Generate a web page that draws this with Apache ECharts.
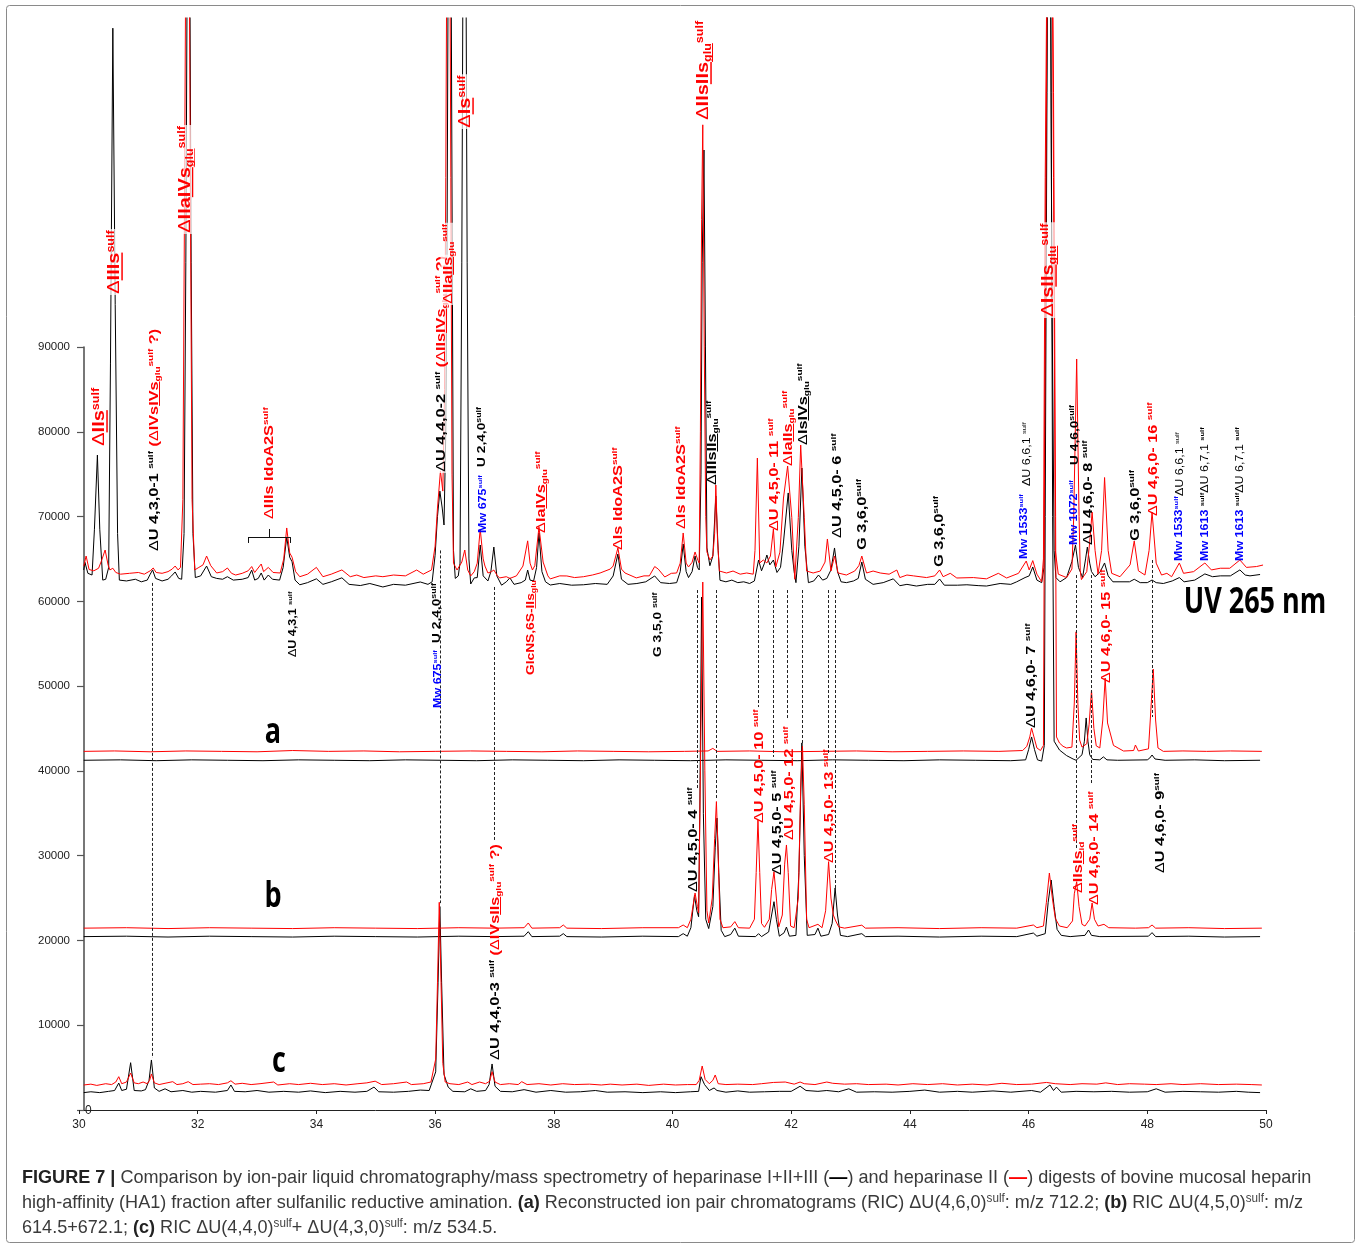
<!DOCTYPE html>
<html>
<head>
<meta charset="utf-8">
<script src="https://cdn.jsdelivr.net/npm/echarts@6/dist/echarts.min.js"></script>
<style>
html,body{margin:0;padding:0;background:#fff;}
#chart{width:1360px;height:1248px;}
</style>
</head>
<body>
<div id="chart"></div>
<script>
// ---------- axis ticks ----------
const xTicks = [30, 32, 34, 36, 38, 40, 42, 44, 46, 48, 50];
const yTicks = [0, 10000, 20000, 30000, 40000, 50000, 60000, 70000, 80000, 90000];

// ---------- chromatograms: [retention time (min), intensity] ----------
// UV 265 nm trace, heparinase I+II+III digest
const uvBlack = [[30.08,63700],[30.10,64600],[30.15,63300],[30.22,63100],[30.26,68500],[30.31,77250],[30.35,68500],[30.40,62500],[30.45,62600],[30.50,64000],[30.53,88000],[30.57,127600],[30.61,95000],[30.65,68000],[30.68,62500],[30.80,62400],[30.95,62600],[31.05,62300],[31.15,62500],[31.20,63200],[31.24,63700],[31.29,62700],[31.40,62400],[31.50,62600],[31.56,63000],[31.62,63460],[31.68,62700],[31.73,62600],[31.77,68000],[31.80,100000],[31.845,170000],[31.89,100000],[31.92,68000],[31.96,62800],[32.05,63000],[32.15,64160],[32.23,62900],[32.32,62700],[32.42,62600],[32.50,62900],[32.60,62500],[32.75,62600],[32.85,62800],[32.91,63680],[32.96,62500],[33.02,62700],[33.07,63340],[33.12,62500],[33.19,63100],[33.26,62600],[33.38,62500],[33.44,64000],[33.50,67590],[33.55,65200],[33.59,64660],[33.64,62500],[33.72,61950],[33.85,62200],[34.00,62650],[34.11,62000],[34.25,62300],[34.43,62770],[34.55,62000],[34.74,61860],[34.90,62100],[35.12,61690],[35.30,62000],[35.50,61900],[35.75,62280],[35.88,62000],[35.95,62300],[36.00,65420],[36.04,70000],[36.08,73000],[36.12,71000],[36.15,69000],[36.18,80000],[36.20,100000],[36.245,180000],[36.29,100000],[36.31,66000],[36.34,62700],[36.39,62990],[36.42,64500],[36.45,100000],[36.495,180000],[36.54,100000],[36.57,65000],[36.60,62040],[36.66,62760],[36.71,62800],[36.76,66640],[36.81,63000],[36.89,62400],[36.94,63500],[36.99,66400],[37.04,63000],[37.12,61900],[37.20,62300],[37.26,62760],[37.33,62000],[37.45,62200],[37.52,62500],[37.56,63690],[37.60,62500],[37.66,62400],[37.71,64000],[37.75,68060],[37.80,63500],[37.86,62300],[37.94,61920],[38.10,62100],[38.30,61900],[38.50,61950],[38.70,62100],[38.90,62000],[39.00,62990],[39.08,65580],[39.14,62600],[39.25,62000],[39.40,62100],[39.55,62300],[39.70,62990],[39.80,62200],[39.95,62100],[40.07,62200],[40.13,63500],[40.18,66760],[40.23,63500],[40.27,62800],[40.33,63500],[40.38,65340],[40.42,64000],[40.45,63700],[40.48,75000],[40.50,100000],[40.53,113230],[40.555,90000],[40.58,66290],[40.63,64200],[40.68,65340],[40.73,72420],[40.77,66000],[40.80,62480],[40.90,62300],[41.00,62500],[41.10,62200],[41.20,62300],[41.30,62100],[41.38,62400],[41.45,64870],[41.50,63600],[41.55,64500],[41.59,65460],[41.64,64300],[41.70,64870],[41.76,63400],[41.82,64000],[41.87,67000],[41.95,72780],[42.01,66000],[42.05,63500],[42.08,62200],[42.13,66500],[42.18,75720],[42.23,66500],[42.29,62200],[42.38,62400],[42.46,63100],[42.53,62500],[42.60,62700],[42.67,63700],[42.73,66290],[42.78,63500],[42.84,62300],[42.93,62200],[43.05,62400],[43.13,62700],[43.19,64640],[43.25,62600],[43.38,62000],[43.55,62200],[43.72,62650],[43.83,61840],[43.95,62000],[44.11,61800],[44.30,62000],[44.42,62000],[44.50,62630],[44.58,61900],[44.80,61900],[44.96,61950],[45.15,61850],[45.29,61800],[45.52,62100],[45.70,62000],[45.80,62300],[45.94,62800],[46.01,63000],[46.07,64050],[46.14,62500],[46.22,62200],[46.26,64000],[46.29,100000],[46.345,180000],[46.39,100000],[46.43,66000],[46.46,62800],[46.53,62300],[46.64,62800],[46.73,64700],[46.79,66640],[46.84,64000],[46.91,62800],[46.96,65000],[46.99,66400],[47.03,64500],[47.06,63500],[47.12,62900],[47.20,63400],[47.28,64520],[47.34,63000],[47.42,62300],[47.54,62300],[47.70,62300],[47.78,62600],[47.88,62200],[48.00,62200],[48.08,62510],[48.15,62200],[48.27,62100],[48.42,62400],[48.54,62800],[48.62,62300],[48.80,62500],[48.97,63230],[49.10,62900],[49.23,63000],[49.40,63000],[49.56,63700],[49.65,63100],[49.73,63000],[49.90,63160]];

// UV 265 nm trace, heparinase II digest
const uvRed = [[30.08,64160],[30.12,65340],[30.17,63750],[30.25,63600],[30.33,63900],[30.38,64800],[30.44,66050],[30.49,64300],[30.52,63700],[30.57,63900],[30.62,63400],[30.70,63200],[30.85,63300],[31.00,63400],[31.10,63200],[31.20,63600],[31.25,63930],[31.30,63400],[31.40,63300],[31.50,63500],[31.57,63800],[31.62,64160],[31.67,63700],[31.71,64000],[31.75,72000],[31.78,110000],[31.83,180000],[31.875,110000],[31.905,72000],[31.95,63700],[32.02,64000],[32.09,64300],[32.15,65340],[32.22,64200],[32.32,63340],[32.42,63500],[32.50,63930],[32.57,63300],[32.64,63100],[32.75,63300],[32.85,63600],[32.91,64100],[32.96,63400],[32.99,63250],[33.07,64400],[33.11,63500],[33.14,63340],[33.19,64000],[33.27,63400],[33.39,63340],[33.45,65000],[33.50,68650],[33.55,65700],[33.59,65200],[33.65,63500],[33.72,62900],[33.85,63200],[34.00,64000],[34.11,62900],[34.25,63200],[34.43,63700],[34.57,62900],[34.68,63100],[34.80,62800],[35.00,63000],[35.12,62900],[35.30,63100],[35.50,63000],[35.69,63690],[35.80,63200],[35.94,63700],[36.00,66500],[36.04,71000],[36.09,75370],[36.13,73000],[36.16,85000],[36.18,110000],[36.225,180000],[36.265,110000],[36.285,75000],[36.31,64500],[36.37,63690],[36.45,64630],[36.50,66050],[36.55,63690],[36.60,62990],[36.66,63500],[36.71,64500],[36.76,68530],[36.81,65000],[36.84,64160],[36.89,63340],[36.95,63500],[36.99,63690],[37.05,63000],[37.09,62760],[37.20,62900],[37.26,62700],[37.37,63000],[37.48,64160],[37.56,67130],[37.60,64500],[37.64,63690],[37.68,64200],[37.75,68750],[37.82,64630],[37.90,63000],[37.94,62640],[38.10,63000],[38.22,62990],[38.35,62800],[38.50,62900],[38.65,63100],[38.78,63340],[38.95,63800],[39.00,64160],[39.08,66290],[39.14,63800],[39.20,63340],[39.39,62760],[39.52,63000],[39.61,63000],[39.70,64100],[39.76,63800],[39.87,62870],[39.98,63300],[40.07,63340],[40.13,64500],[40.18,68060],[40.23,64500],[40.27,64050],[40.33,64600],[40.38,65820],[40.43,64800],[40.45,64520],[40.47,80000],[40.49,105000],[40.51,116200],[40.535,90000],[40.56,70000],[40.58,65820],[40.63,64870],[40.68,65340],[40.71,68000],[40.73,73720],[40.76,67000],[40.79,63570],[40.91,63340],[41.02,63570],[41.14,63200],[41.25,63340],[41.36,63200],[41.39,66000],[41.43,76900],[41.47,64520],[41.53,64870],[41.59,64520],[41.65,65340],[41.70,68530],[41.74,64050],[41.81,65800],[41.87,72180],[41.94,75960],[42.01,69880],[42.06,62600],[42.12,69880],[42.16,78430],[42.22,69880],[42.26,63570],[42.37,63340],[42.49,63570],[42.57,64630],[42.61,67350],[42.67,63570],[42.73,65340],[42.79,63340],[42.93,63100],[43.07,63570],[43.14,64200],[43.19,65340],[43.25,63800],[43.27,63340],[43.38,63570],[43.50,63340],[43.65,63200],[43.78,63690],[43.83,62800],[43.95,63100],[44.06,63000],[44.28,62800],[44.42,63000],[44.50,63690],[44.56,62900],[44.68,63300],[44.79,62750],[45.07,62800],[45.29,62650],[45.49,63300],[45.63,62750],[45.83,63300],[45.96,64750],[46.01,63700],[46.07,64800],[46.14,63200],[46.22,62300],[46.25,65000],[46.28,110000],[46.36,180000],[46.42,110000],[46.45,66000],[46.50,63200],[46.64,62800],[46.73,63810],[46.76,70000],[46.81,88580],[46.85,70000],[46.87,63600],[46.89,62560],[46.98,63500],[47.03,67000],[47.07,70530],[47.12,66000],[47.17,63210],[47.23,66000],[47.28,74600],[47.34,66000],[47.40,63300],[47.54,62900],[47.71,64300],[47.78,67110],[47.85,63600],[47.96,63100],[48.03,66000],[48.08,70530],[48.15,64500],[48.24,63100],[48.33,63300],[48.41,62900],[48.54,64520],[48.61,63300],[48.78,63500],[48.97,64520],[49.08,63700],[49.23,63900],[49.39,63900],[49.56,64870],[49.67,64000],[49.84,64100],[49.95,64280]];

// (a) RIC ΔU(4,6,0)sulf, m/z 712.2
const aBlack = [[30.08,41250],[30.7,41300],[31.3,41200],[31.9,41300],[32.5,41250],[33.1,41200],[33.7,41300],[34.3,41250],[34.9,41200],[35.5,41300],[36.1,41250],[36.7,41200],[37.3,41300],[37.9,41250],[38.5,41200],[39.1,41300],[39.7,41250],[40.3,41200],[40.9,41300],[41.5,41250],[42.1,41200],[42.7,41300],[43.3,41250],[43.9,41200],[44.5,41300],[45.1,41250],[45.7,41200],[45.95,41300],[46.00,42500],[46.05,44000],[46.10,42500],[46.15,41300],[46.22,41150],[46.265,43000],[46.28,70000],[46.31,120000],[46.345,180000],[46.38,120000],[46.405,70000],[46.43,43500],[46.52,42460],[46.64,41800],[46.75,41400],[46.80,41250],[46.90,41900],[46.94,43500],[46.97,46240],[47.00,43500],[47.03,41900],[47.08,41350],[47.20,41300],[47.26,41650],[47.32,41300],[47.50,41250],[48.00,41300],[48.04,41500],[48.08,41870],[48.13,41400],[48.30,41250],[48.8,41300],[49.3,41200],[49.90,41250]];
const aRed = [[30.08,42300],[30.6,42350],[31.2,42250],[31.8,42350],[32.4,42300],[33.0,42250],[33.6,42400],[34.2,42300],[34.8,42350],[35.4,42250],[36.0,42300],[36.6,42350],[37.2,42300],[37.8,42250],[38.4,42350],[39.0,42300],[39.6,42250],[40.2,42300],[40.6,42350],[40.68,42650],[40.75,42300],[41.3,42350],[41.9,42250],[42.5,42300],[43.1,42350],[43.7,42250],[44.3,42300],[44.9,42350],[45.5,42300],[45.90,42400],[45.97,42900],[46.02,44000],[46.05,45050],[46.09,44000],[46.14,42700],[46.20,42400],[46.25,43000],[46.265,70000],[46.30,120000],[46.36,180000],[46.42,120000],[46.455,70000],[46.47,44000],[46.52,43290],[46.58,42900],[46.64,42700],[46.73,42800],[46.77,48000],[46.80,56400],[46.83,48000],[46.86,43640],[46.90,42800],[46.98,43200],[47.02,45500],[47.06,49540],[47.10,45000],[47.14,42950],[47.20,42700],[47.25,46000],[47.29,50950],[47.33,45650],[47.43,43000],[47.60,42340],[47.77,42400],[47.80,43050],[47.85,42340],[48.02,42600],[48.05,46000],[48.10,52000],[48.14,46000],[48.18,42700],[48.27,42300],[48.6,42350],[49.0,42300],[49.4,42350],[49.93,42300]];

// (b) RIC ΔU(4,5,0)sulf, m/z 614.5+672.1
const bBlack = [[30.08,20450],[30.8,20500],[31.5,20400],[32.2,20500],[32.9,20450],[33.6,20400],[34.3,20500],[35.0,20450],[35.7,20400],[36.4,20500],[37.0,20450],[37.50,20500],[37.57,21030],[37.63,20450],[38.10,20500],[38.16,20800],[38.22,20450],[38.8,20400],[39.5,20500],[40.10,20450],[40.18,20800],[40.25,20500],[40.31,21500],[40.37,25300],[40.41,23500],[40.44,22800],[40.46,35000],[40.49,60500],[40.52,35000],[40.56,22500],[40.61,21400],[40.68,24000],[40.72,31000],[40.75,34430],[40.78,28000],[40.82,21200],[40.88,20450],[40.98,20700],[41.05,21450],[41.11,20500],[41.40,20450],[41.45,20800],[41.50,20450],[41.62,21000],[41.67,23000],[41.71,24570],[41.75,22500],[41.80,20500],[41.88,20900],[41.92,21580],[41.97,20500],[42.08,20600],[42.13,28000],[42.18,43300],[42.22,30000],[42.27,20600],[42.40,20700],[42.45,21450],[42.50,20500],[42.63,20700],[42.69,22000],[42.74,26190],[42.78,23000],[42.83,20600],[42.95,20450],[43.19,20800],[43.25,20450],[43.8,20500],[44.5,20400],[45.2,20500],[45.8,20450],[46.08,20870],[46.14,20500],[46.28,20800],[46.33,24500],[46.38,27130],[46.43,24000],[46.48,21300],[46.55,20600],[46.70,20450],[46.95,20600],[47.01,21230],[47.06,20600],[47.20,20450],[48.02,20500],[48.08,20920],[48.14,20450],[48.7,20500],[49.3,20400],[49.90,20450]];
const bRed = [[30.08,21450],[30.8,21500],[31.5,21400],[32.2,21500],[32.9,21450],[33.6,21400],[34.3,21500],[35.0,21450],[35.7,21400],[36.4,21500],[37.0,21450],[37.50,21500],[37.57,22060],[37.63,21450],[38.10,21500],[38.16,21820],[38.22,21450],[38.8,21400],[39.5,21500],[40.10,21500],[40.18,21820],[40.25,21500],[40.31,22500],[40.38,25590],[40.42,24000],[40.44,23240],[40.47,40000],[40.51,62270],[40.545,40000],[40.58,23500],[40.61,22060],[40.67,25000],[40.71,32000],[40.74,36380],[40.77,30000],[40.80,22500],[40.85,21500],[40.98,21600],[41.05,22220],[41.11,21500],[41.30,21450],[41.38,22500],[41.41,28000],[41.44,34200],[41.47,28000],[41.50,22000],[41.55,21550],[41.63,22500],[41.67,26000],[41.71,28110],[41.75,25000],[41.79,21600],[41.85,23000],[41.89,29000],[41.92,31260],[41.95,28000],[41.99,21700],[42.05,21500],[42.12,25000],[42.16,38000],[42.19,42900],[42.22,36000],[42.26,22500],[42.30,21500],[42.45,21900],[42.52,21500],[42.58,23500],[42.63,29290],[42.67,25000],[42.71,23000],[42.75,22300],[42.80,21600],[42.90,21450],[43.19,21800],[43.25,21450],[43.8,21500],[44.5,21400],[45.2,21500],[45.8,21450],[46.08,21820],[46.14,21500],[46.25,21700],[46.30,24500],[46.35,27950],[46.40,25000],[46.45,22600],[46.52,21700],[46.65,21500],[46.74,22300],[46.77,25500],[46.81,26930],[46.85,24000],[46.90,21900],[46.95,21700],[47.03,22500],[47.07,24410],[47.11,22500],[47.17,21700],[47.27,21900],[47.35,21500],[47.8,21450],[48.02,21500],[48.08,21820],[48.14,21450],[48.7,21500],[49.3,21400],[49.93,21450]];

// (c) RIC ΔU(4,4,0)sulf + ΔU(4,3,0)sulf, m/z 534.5
const cBlack = [[30.08,2050],[30.20,2150],[30.35,2050],[30.50,2200],[30.60,2300],[30.67,3180],[30.72,2300],[30.80,2450],[30.87,5580],[30.93,2300],[31.05,2250],[31.12,2400],[31.18,3500],[31.22,5900],[31.27,2600],[31.35,2200],[31.45,2500],[31.55,2150],[31.75,2300],[31.90,2100],[32.05,2200],[32.30,2100],[32.50,2300],[32.56,2950],[32.62,2200],[32.80,2150],[33.00,2300],[33.20,2100],[33.45,2200],[33.70,2100],[33.90,2250],[34.15,2050],[34.40,2200],[34.65,2100],[34.85,2200],[34.97,2700],[35.05,2150],[35.30,2100],[35.55,2200],[35.75,2350],[35.90,2300],[36.01,4500],[36.05,15000],[36.08,24000],[36.11,15000],[36.15,4200],[36.22,2700],[36.30,2200],[36.50,2150],[36.60,2500],[36.70,2200],[36.85,2300],[36.91,3000],[36.96,5430],[37.01,2800],[37.10,2200],[37.30,2150],[37.50,2400],[37.70,2100],[37.95,2300],[38.20,2100],[38.45,2150],[38.70,2300],[38.90,2100],[39.20,2150],[39.50,2050],[39.80,2150],[40.05,2050],[40.30,2150],[40.44,2200],[40.48,3930],[40.54,3000],[40.62,2300],[40.70,2600],[40.75,2300],[40.90,2100],[41.10,2250],[41.30,2100],[41.55,2150],[41.80,2200],[42.00,2200],[42.15,2800],[42.25,2300],[42.45,2200],[42.60,2300],[42.80,2150],[42.97,2500],[43.10,2100],[43.40,2150],[43.70,2100],[44.00,2200],[44.25,2350],[44.50,2100],[44.80,2200],[45.05,2100],[45.40,2250],[45.70,2100],[46.05,2300],[46.20,2100],[46.36,2950],[46.42,2300],[46.47,2700],[46.55,2100],[46.80,2200],[47.10,2150],[47.40,2200],[47.70,2100],[48.00,2150],[48.15,2500],[48.30,2100],[48.60,2200],[48.90,2150],[49.20,2100],[49.50,2200],[49.70,2100],[49.90,2050]];
const cRed = [[30.08,2950],[30.2,3050],[30.3,2900],[30.45,3100],[30.55,3000],[30.62,3300],[30.67,3930],[30.72,3100],[30.80,3300],[30.87,4360],[30.93,3200],[31.00,3100],[31.08,3300],[31.15,3100],[31.19,3500],[31.22,4250],[31.27,3200],[31.35,3000],[31.45,3150],[31.58,3340],[31.65,3000],[31.75,3100],[31.84,3340],[31.92,3000],[32.05,3050],[32.20,3100],[32.35,3000],[32.50,3200],[32.56,3450],[32.63,3050],[32.75,3150],[32.90,3000],[33.05,3100],[33.28,3300],[33.35,2950],[33.55,3100],[33.70,3000],[33.90,3150],[34.10,3000],[34.30,3100],[34.50,2950],[34.70,3100],[34.85,3200],[34.99,3400],[35.10,3000],[35.30,3100],[35.52,3300],[35.60,3000],[35.80,3100],[35.93,3300],[36.01,6000],[36.04,15000],[36.07,24500],[36.10,15000],[36.13,5500],[36.17,3300],[36.25,3100],[36.40,3000],[36.55,3300],[36.62,3000],[36.75,3300],[36.85,3100],[36.92,3400],[36.96,4520],[37.01,3300],[37.10,3000],[37.25,3100],[37.40,3000],[37.46,3340],[37.55,3000],[37.75,3100],[37.95,2950],[38.15,3100],[38.35,3000],[38.60,3050],[38.80,2950],[38.95,3050],[39.15,2950],[39.40,3050],[39.60,2900],[39.85,3050],[40.05,2950],[40.25,3000],[40.40,3000],[40.45,3500],[40.50,5190],[40.55,3600],[40.62,3100],[40.68,3500],[40.72,4130],[40.77,3100],[40.90,3000],[41.10,3050],[41.35,3000],[41.50,3100],[41.70,3250],[41.90,3300],[42.05,3050],[42.15,3300],[42.22,3100],[42.40,3000],[42.60,3300],[42.70,3150],[42.90,3050],[43.10,3100],[43.30,3000],[43.60,3050],[43.80,2950],[44.05,3100],[44.30,3000],[44.55,3100],[44.80,2950],[45.05,3050],[45.30,2950],[45.55,3150],[45.80,3000],[46.05,3050],[46.30,3250],[46.45,3100],[46.70,3000],[46.90,3100],[47.15,3050],[47.30,3200],[47.50,3000],[47.70,3100],[47.95,3050],[48.15,3000],[48.40,3100],[48.60,3000],[48.90,3100],[49.20,3000],[49.50,3050],[49.75,3000],[49.93,2950]];

// dotted guides linking a peak across traces: [time, upper intensity, lower intensity]
const guides = [[31.24,62170,6130],[36.08,66000,24400],[36.99,61690,31850],[40.41,61330,37740],[40.73,61330,36560],[41.45,61330,47530],[41.70,61330,41640],[41.94,61330,46000],[42.18,61330,43050],[42.62,61330,42110],[42.75,61330,26190],[46.80,63100,30900],[47.06,63100,38330],[48.08,64870,46350]];

// bracket over the ΔIIIs IdoA2S cluster: [from time, to time, bar level, foot level, stem top]
const bracketSpan = [32.85, 33.555, 67580, 66880, 68530];

// ---------- styles ----------
const RED = '#ff0000', BLACK = '#000000', BLUE = '#0000ff';
const FONT = '"Liberation Sans", Arial, Helvetica, sans-serif';
const COLORS = { R: RED, K: BLACK, B: BLUE };

// peak annotations, text reads bottom to top: [time, intensity at text start, rich text, style, colour]
const notes = [
  [30.354, 78200, '{d|Δ}{u|IIs}{p|sulf}', 'L', 'R'],
  [30.607, 96130, '{d|Δ}{u|IIIs}{p|sulf}', 'L', 'R'],
  [31.264, 65930, '{d|Δ}U 4,3,0-1 {p|sulf} {r|(}{rd|Δ}{r|IVs}{ru|IVs}{rv|glu}{rp|sulf}{r| ?)}', 'M', 'K'],
  [31.80, 103320, '{d|Δ}IIa{u|IVs}{v|glu}{p|sulf}', 'L', 'R'],
  [33.201, 69710, '{d|Δ}IIIs IdoA2S{p|sulf}', 'M', 'R'],
  [33.606, 53430, '{d|Δ}U 4,3,1 {p|sulf}', 'S', 'K'],
  [36.099, 75130, '{d|Δ}U 4,4,0-2 {p|sulf} {r|(}{rd|Δ}{r|IIs}{ru|IVs}{rv|glu}{rp|sulf}{r| ?)}', 'MB', 'K'],
  [36.217, 94950, '{d|Δ}IIa{u|IIs}{v|glu}{p|sulf}', 'MB', 'R'],
  [36.521, 115710, '{d|Δ}{u|Is}{p|sulf}', 'L', 'R'],
  [36.79, 75840, 'U 2,4,0{p|sulf}', 'U', 'K'],
  [36.807, 68060, 'Mw 675{p|sulf}', 'S', 'B'],
  [37.784, 68060, '{d|Δ}Ia{u|IVs}{v|glu}{p|sulf}', 'M', 'R'],
  [39.082, 66050, '{d|Δ}Is IdoA2S{p|sulf}', 'M', 'R'],
  [40.143, 68530, '{d|Δ}Is IdoA2S{p|sulf}', 'M', 'R'],
  [40.531, 116650, '{d|Δ}IIs{u|IIs}{v|glu}{p|sulf}', 'L', 'R'],
  [40.666, 73720, '{d|Δ}IIIs{u|IIs}{v|glu}{p|sulf}', 'M', 'K'],
  [41.710, 68290, '{d|Δ}U 4,5,0- 11 {p|sulf}', 'M', 'R'],
  [41.946, 75960, '{d|Δ}Ia{u|IIs}{v|glu}{p|sulf}', 'M', 'R'],
  [42.199, 78440, '{d|Δ}Is{u|IVs}{v|glu}{p|sulf}', 'M', 'K'],
  [42.772, 67470, '{d|Δ}U 4,5,0- 6 {p|sulf}', 'M', 'K'],
  [43.193, 66050, 'G 3,6,0{p|sulf}', 'M', 'K'],
  [44.490, 64050, 'G 3,6,0{p|sulf}', 'M', 'K'],
  [45.922, 64990, 'Mw 1533{p|sulf}', 'S', 'B'],
  [45.973, 73600, '{d|Δ}U 6,6,1 {p|sulf}', 'SN', 'K'],
  [46.344, 93420, '{d|Δ}Is{u|IIs}{v|glu}{p|sulf}', 'L', 'R'],
  [46.765, 66640, 'Mw 1072{p|sulf}', 'S', 'B'],
  [46.782, 76080, 'U 4,6,0{p|sulf}', 'U', 'K'],
  [47.001, 66640, '{d|Δ}U 4,6,0- 8 {p|sulf}', 'M', 'K'],
  [47.793, 67110, 'G 3,6,0{p|sulf}', 'M', 'K'],
  [48.096, 70060, '{d|Δ}U 4,6,0- 16 {p|sulf}', 'M', 'R'],
  [48.551, 72420, '{d|Δ}U 6,6,1 {p|sulf}', 'SN', 'K'],
  [48.534, 64750, 'Mw 1533{p|sulf}', 'S', 'B'],
  [48.972, 64750, 'Mw 1613 {kp|sulf}{kd|Δ}{kn|U 6,7,1 }{kp|sulf}', 'S', 'B'],
  [49.562, 64750, 'Mw 1613 {kp|sulf}{kd|Δ}{kn|U 6,7,1 }{kp|sulf}', 'S', 'B'],
  [36.032, 55080, 'U 2,4,0{p|sulf}', 'U', 'K'],
  [36.049, 47420, 'Mw 675{p|sulf}', 'S', 'B'],
  [37.616, 51310, 'GlcNS,6S-{u|IIs}{v|glu}', 'U', 'R'],
  [39.756, 53430, 'G 3,5,0 {p|sulf}', 'U', 'K'],
  [46.040, 45060, '{d|Δ}U 4,6,0- 7 {p|sulf}', 'M', 'K'],
  [47.304, 50360, '{d|Δ}U 4,6,0- 15 {p|sulf}', 'M', 'R'],
  [41.458, 33850, '{d|Δ}U 4,5,0- 10 {p|sulf}', 'M', 'R'],
  [41.761, 27720, '{d|Δ}U 4,5,0- 5 {p|sulf}', 'M', 'K'],
  [41.963, 31850, '{d|Δ}U 4,5,0- 12 {p|sulf}', 'M', 'R'],
  [42.637, 29130, '{d|Δ}U 4,5,0- 13 {p|sulf}', 'M', 'R'],
  [40.345, 25710, '{d|Δ}U 4,5,0- 4 {p|sulf}', 'M', 'K'],
  [46.832, 25590, '{d|Δ}IIs{u|Is}{v|id}{p|sulf}', 'M', 'R'],
  [47.102, 24180, '{d|Δ}U 4,6,0- 14 {p|sulf}', 'M', 'R'],
  [48.214, 27950, '{d|Δ}U 4,6,0- 9{p|sulf}', 'M', 'K'],
  [37.009, 5900, '{d|Δ}U 4,4,0-3 {p|sulf} {r|(}{rd|Δ}{r|IVs}{ru|IIs}{rv|glu}{rp|sulf}{r| ?)}', 'M', 'K']
];

// panel tags: [time, intensity, text]
const panelTags = [[33.269, 44470, 'a'], [33.269, 25120, 'b'], [33.37, 5660, 'c'], [49.815, 59800, 'UV 265 nm']];

const captionLines = [
  '{fb|FIGURE 7 |} Comparison by ion-pair liquid chromatography/mass spectrometry of heparinase I+II+III ({fk|—}) and heparinase II ({fr|—}) digests of bovine mucosal heparin',
  'high-affinity (HA1) fraction after sulfanilic reductive amination. {fb|(a)} Reconstructed ion pair chromatograms (RIC) ΔU(4,6,0){fp|sulf}: m/z 712.2; {fb|(b)} RIC ΔU(4,5,0){fp|sulf}: m/z',
  '614.5+672.1; {fb|(c)} RIC ΔU(4,4,0){fp|sulf}+ ΔU(4,3,0){fp|sulf}: m/z 534.5.'
];

const PRESET = {
  L:  { size: 16, weight: 'bold',   stretch: 1.25, bg: true },
  MB: { size: 13, weight: 'bold',   stretch: 1.25, bg: true },
  M:  { size: 13, weight: 'bold',   stretch: 1.25, bg: false },
  U:  { size: 11, weight: 'bold',   stretch: 1.25, bg: false },
  S:  { size: 10, weight: 'bold',   stretch: 1.25, bg: false },
  SN: { size: 10, weight: 'normal', stretch: 1.25, bg: false }
};

// thin bar drawn at the bottom of a token box, used as underline
const ulCache = {};
function underlineImage(color) {
  if (!ulCache[color]) {
    const c = document.createElement('canvas');
    c.width = 4; c.height = 40;
    const g = c.getContext('2d');
    g.fillStyle = color;
    g.fillRect(0, 36, 4, 3);
    ulCache[color] = c;
  }
  return ulCache[color];
}

function buildRich(size, weight, baseColor) {
  const small = Math.round(size * 0.64);
  const rich = {};
  const palette = { '': baseColor, r: RED, k: BLACK, b: BLUE };
  Object.keys(palette).forEach(function (pre) {
    const col = palette[pre];
    const main = { fill: col, fontSize: size, fontWeight: weight, fontFamily: FONT, lineHeight: size + 2 };
    const sup = { fill: col, fontSize: small, fontWeight: weight, fontFamily: FONT, lineHeight: small, verticalAlign: 'top' };
    const sub = Object.assign({}, sup, { verticalAlign: 'bottom' });
    rich[pre || 't'] = main;
    rich[pre + 'd'] = Object.assign({}, main, { fontWeight: 'normal' });
    rich[pre + 'n'] = Object.assign({}, main, { fontWeight: 'normal' });
    rich[pre + 'p'] = sup;
    rich[pre + 's'] = sub;
    rich[pre + 'u'] = Object.assign({}, main, { backgroundColor: { image: underlineImage(col) } });
    rich[pre + 'v'] = Object.assign({}, sub, { backgroundColor: { image: underlineImage(col) } });
  });
  return rich;
}

// ---------- chart ----------
const chart = echarts.init(document.getElementById('chart'), null, { renderer: 'canvas' });

function traceSeries(name, data, color) {
  return {
    name: name, type: 'line', data: data, xAxisIndex: 0, yAxisIndex: 0,
    showSymbol: false, symbol: 'none', silent: true, animation: false,
    lineStyle: { color: color, width: 1 }, z: color === RED ? 4 : 3
  };
}

const guideSegments = guides.map(function (g) {
  return [{ coord: [g[0], g[1]] }, { coord: [g[0], g[2]] }];
});
const b = bracketSpan;
const bracketSegments = [
  [{ coord: [b[0], b[3]] }, { coord: [b[0], b[2]] }],
  [{ coord: [b[0], b[2]] }, { coord: [b[1], b[2]] }],
  [{ coord: [b[1], b[2]] }, { coord: [b[1], b[3]] }],
  [{ coord: [(b[0] + b[1]) / 2, b[2]] }, { coord: [(b[0] + b[1]) / 2, b[4]] }]
];

const cBlackSeries = traceSeries('c, heparinase I+II+III', cBlack, BLACK);
cBlackSeries.markLine = {
  silent: true, symbol: ['none', 'none'], animation: false, label: { show: false },
  lineStyle: { color: '#222', width: 1, type: [3, 2] },
  data: guideSegments
};
const uvBlackSeries = traceSeries('UV, heparinase I+II+III', uvBlack, BLACK);
uvBlackSeries.markLine = {
  silent: true, symbol: ['none', 'none'], animation: false, label: { show: false },
  lineStyle: { color: '#111', width: 1, type: 'solid' },
  data: bracketSegments
};

chart.setOption({
  animation: false,
  backgroundColor: '#ffffff',
  grid: [
    { left: 79, top: 18, width: 1187, height: 1092 },
    { left: 84, top: 347, width: 10, height: 763 }
  ],
  xAxis: [
    {
      type: 'value', gridIndex: 0, min: xTicks[0], max: xTicks[xTicks.length - 1], interval: 2,
      axisLine: { show: true, onZero: false, lineStyle: { color: '#222', width: 1 } },
      axisTick: { show: true, length: 4, lineStyle: { color: '#222' } },
      splitLine: { show: false },
      axisLabel: { color: '#222', fontSize: 12, fontFamily: FONT, margin: 9 }
    },
    { type: 'value', gridIndex: 1, min: 0, max: 1, show: false }
  ],
  yAxis: [
    { type: 'value', gridIndex: 0, min: 0, max: 128800, show: false },
    {
      type: 'value', gridIndex: 1, min: yTicks[0], max: yTicks[yTicks.length - 1], interval: 10000,
      axisLine: { show: true, lineStyle: { color: '#555', width: 1.6 } },
      axisTick: { show: true, length: 7, lineStyle: { color: '#555', width: 1.2 } },
      splitLine: { show: false },
      axisLabel: {
        color: '#222', fontSize: 11.5, fontFamily: FONT, margin: 14,
        formatter: function (v) { return v === 0 ? '' : String(v); }
      }
    }
  ],
  series: [
    uvBlackSeries,
    traceSeries('a, heparinase I+II+III', aBlack, BLACK),
    traceSeries('b, heparinase I+II+III', bBlack, BLACK),
    cBlackSeries,
    traceSeries('UV, heparinase II', uvRed, RED),
    traceSeries('a, heparinase II', aRed, RED),
    traceSeries('b, heparinase II', bRed, RED),
    traceSeries('c, heparinase II', cRed, RED)
  ]
});

// ---------- text layer placed through the chart's own scales ----------
function px(x, y) { return chart.convertToPixel({ gridIndex: 0 }, [x, y]); }

const graphics = [];

// figure frame
graphics.push({
  type: 'rect', silent: true, z: 1,
  shape: { x: 6.5, y: 5.5, width: 1348, height: 1237, r: 3 },
  style: { fill: 'none', stroke: '#8a8a8a', lineWidth: 1 }
});

// label for the zero of the intensity axis
const zeroPt = px(xTicks[0], yTicks[0]);
graphics.push({
  type: 'text', silent: true, z: 60, x: zeroPt[0] + 6, y: zeroPt[1] + 1,
  style: { text: '0', fill: '#222', font: '12px ' + FONT, align: 'left', verticalAlign: 'middle' }
});

notes.forEach(function (n) {
  const p = PRESET[n[3]];
  const col = COLORS[n[4]];
  const pt = px(n[0], n[1]);
  const style = {
    text: n[2], rich: buildRich(p.size, p.weight, col),
    fill: col, fontSize: p.size, fontWeight: p.weight, fontFamily: FONT, lineHeight: p.size + 2,
    align: 'left', verticalAlign: 'middle'
  };
  if (p.bg) { style.backgroundColor = 'rgba(255,255,255,0.7)'; style.padding = [0, 1]; }
  graphics.push({
    type: 'text', silent: true, z: 50,
    x: pt[0], y: pt[1], rotation: Math.PI / 2, scaleX: p.stretch, scaleY: 1,
    style: style
  });
});

panelTags.forEach(function (t) {
  const pt = px(t[0], t[1]);
  graphics.push({
    type: 'text', silent: true, z: 50, x: pt[0], y: pt[1], scaleY: 1.35,
    style: { text: t[2], fill: '#000', font: 'bold 27px "Open Sans", "Liberation Sans", sans-serif', align: 'center', verticalAlign: 'middle' }
  });
});

// caption, fitted to the frame width
const CAP_SIZE = 17;
const meas = document.createElement('canvas').getContext('2d');
meas.font = CAP_SIZE + 'px ' + FONT;
const plain1 = captionLines[0].replace(/\{[a-z]+\|([^}]*)\}/g, '$1');
const capScale = 1289 / meas.measureText(plain1).width;
const capRich = {
  fb: { fontSize: CAP_SIZE, fontWeight: 'bold', fontFamily: FONT, fill: '#222' },
  fk: { fontSize: CAP_SIZE, fontWeight: 'bold', fontFamily: FONT, fill: '#000' },
  fr: { fontSize: CAP_SIZE, fontWeight: 'bold', fontFamily: FONT, fill: RED },
  fp: { fontSize: 11, fontFamily: FONT, fill: '#444', verticalAlign: 'top', lineHeight: 11 }
};
[1178, 1203, 1228].forEach(function (yy, i) {
  graphics.push({
    type: 'text', silent: true, z: 50, x: 22, y: yy, scaleX: capScale, scaleY: 1.08,
    style: {
      text: captionLines[i], rich: capRich, fill: '#3a3a3a',
      fontSize: CAP_SIZE, fontFamily: FONT, lineHeight: CAP_SIZE + 2,
      align: 'left', verticalAlign: 'middle'
    }
  });
});

chart.setOption({ graphic: { elements: graphics } });
</script>
</body>
</html>
